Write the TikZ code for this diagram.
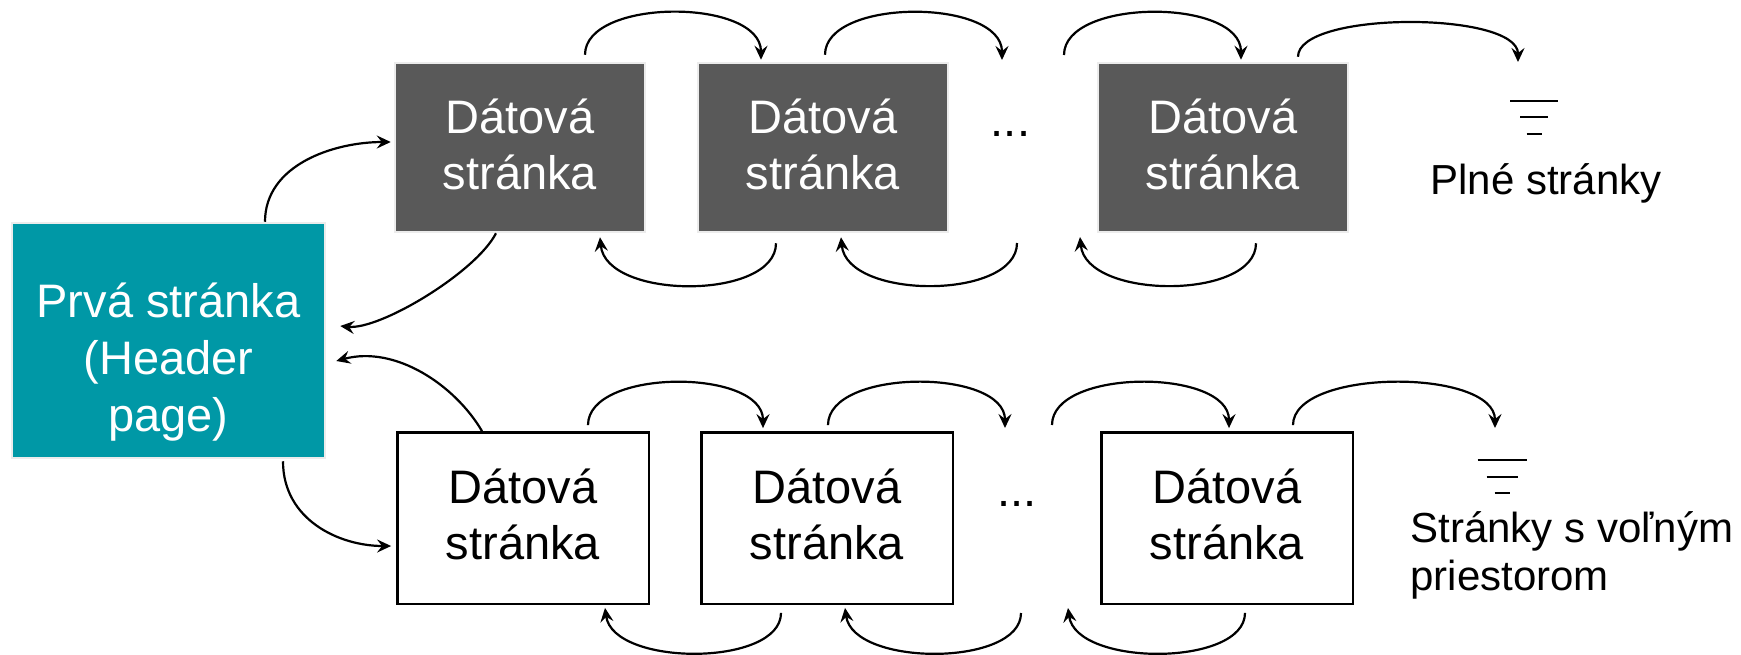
\documentclass[tikz,border=0pt]{standalone}
\usepackage{fontspec}
\setmainfont{Liberation Sans}
\usetikzlibrary{arrows.meta,calc}

\definecolor{pagegrey}{RGB}{89,89,89}
\definecolor{headteal}{RGB}{0,152,166}
\definecolor{rimgrey}{RGB}{236,236,236}

\newcommand\dpfont{\fontsize{23.5pt}{28pt}\selectfont}
\newcommand\hpfont{\fontsize{23.5pt}{28.5pt}\selectfont}
\newcommand\notefont{\fontsize{21pt}{24pt}\selectfont}

\begin{document}
\begin{tikzpicture}[x=0.5pt,y=-0.5pt,
  boxtext/.style={font=\dpfont, align=center, inner sep=0pt,
    text height=45.5pt, text depth=4pt},
  fullpage/.style={boxtext, rectangle, fill=pagegrey, draw=rimgrey,
    line width=1.25pt, text=white, minimum width=125pt, minimum height=84.5pt},
  freepage/.style={boxtext, rectangle, fill=white, draw=black,
    line width=1.2pt, text=black, minimum width=125.7pt, minimum height=85.7pt},
  headpage/.style={rectangle, fill=headteal, draw=rimgrey, line width=1.25pt,
    text=white, font=\hpfont, align=center, inner sep=0pt,
    minimum width=156.5pt, minimum height=117.5pt,
    text height=95.5pt, text depth=5pt},
  note/.style={font=\notefont, inner sep=0pt, text=black},
  gap/.style={font=\dpfont, inner sep=0pt, anchor=base},
  link/.style={-{Stealth[length=7pt,width=6.5pt,inset=2.5pt]}, line width=1.1pt},
  ground/.style={line width=1.2pt}
]
\path[use as bounding box, fill=white] (0,0) rectangle (1741,654);

% header page
\node[headpage] (H) at (168.5,340.5) {Prvá stránka\\(Header\\page)};

% chain of full pages
\node[fullpage] (T1) at (520,147.5) {Dátová\\stránka};
\node[fullpage] (T2) at (823,147.5) {Dátová\\stránka};
\node[fullpage] (T3) at (1223,147.5) {Dátová\\stránka};
\node[gap] (d1) at (1010.5,136) {...};

% chain of pages with free space
\node[freepage] (B1) at (523,518) {Dátová\\stránka};
\node[freepage] (B2) at (827,518) {Dátová\\stránka};
\node[freepage] (B3) at (1227,518) {Dátová\\stránka};
\node[gap] (d2) at (1017,506) {...};

% labels of the two lists
\node[note, anchor=base] (full) at (1546,194) {Plné stránky};
\node[note, anchor=base west, align=left] (free) at (1410,590) {Stránky s voľným\\priestorom};

% loose ends of the chains
\coordinate (e1) at (1002,60);
\coordinate (s1) at (1064,55);
\coordinate (g1) at (1518,62);
\coordinate (s2) at (1017,243);
\coordinate (e2) at (1080,237);
\coordinate (e3) at (1005,428);
\coordinate (s3) at (1052,425);
\coordinate (g2) at (1495,428);
\coordinate (s4) at (1021,613);
\coordinate (e4) at (1068,608);

% forward links, full pages
\draw[link] ($(T1.north)+(65,-7)$) .. controls +(0,-57) and +(0,-62) .. ($(T2.north)+(-62,-2)$);
\draw[link] ($(T2.north)+(2,-7)$) .. controls +(0,-57) and +(0,-62) .. (e1);
\draw[link] (s1) .. controls +(0,-57) and +(0,-62) .. ($(T3.north)+(18,-2)$);
\draw[link] ($(T3.north)+(75,-5)$) .. controls +(0,-46) and +(0,-51) .. (g1);

% backward links, full pages
\draw[link] ($(T2.south)+(-47,10)$) .. controls +(0,57) and +(6,63) .. ($(T1.south)+(80,4)$);
\draw[link] (s2) .. controls +(0,57) and +(6,63) .. ($(T2.south)+(18,4)$);
\draw[link] ($(T3.south)+(33,10)$) .. controls +(0,57) and +(6,63) .. (e2);

% forward links, pages with free space
\draw[link] ($(B1.north)+(65,-6)$) .. controls +(0,-57) and +(0,-60) .. ($(B2.north)+(-64,-3)$);
\draw[link] ($(B2.north)+(1,-6)$) .. controls +(0,-57) and +(0,-60) .. (e3);
\draw[link] (s3) .. controls +(0,-57) and +(0,-60) .. ($(B3.north)+(2,-3)$);
\draw[link] ($(B3.north)+(66,-6)$) .. controls +(0,-57) and +(0,-60) .. (g2);

% backward links, pages with free space
\draw[link] ($(B2.south)+(-46,8)$) .. controls +(0,54) and +(8,59) .. ($(B1.south)+(82,3)$);
\draw[link] (s4) .. controls +(0,54) and +(8,59) .. ($(B2.south)+(18,3)$);
\draw[link] ($(B3.south)+(18,8)$) .. controls +(0,54) and +(8,59) .. (e4);

% header page to the heads of both lists and back
\draw[link] ($(H.north)+(96.5,0)$) .. controls +(0,-57) and +(-57,0) .. ($(T1.west)+(-3,-5.5)$);
\draw[link] ($(T1.south)+(-24,0)$) .. controls +(-20,39) and +(40,4) .. ($(H.east)+(14,-14.5)$);
\draw[link] ($(B1.north)+(-41,0)$) .. controls +(-27,-46) and +(59,-16) .. ($(H.east)+(10,20.5)$);
\draw[link] ($(H.south)+(114.5,2)$) .. controls +(0,58.5) and +(-52,0) .. ($(B1.west)+(-5,28)$);

% list terminators
\draw[ground] (1510,101) -- (1558,101) (1520,117) -- (1548,117) (1526.5,134) -- (1541.5,134);
\draw[ground] (1477.5,460) -- (1526.5,460) (1486.5,477) -- (1517.5,477) (1494.5,493) -- (1509.5,493);
\end{tikzpicture}
\end{document}
